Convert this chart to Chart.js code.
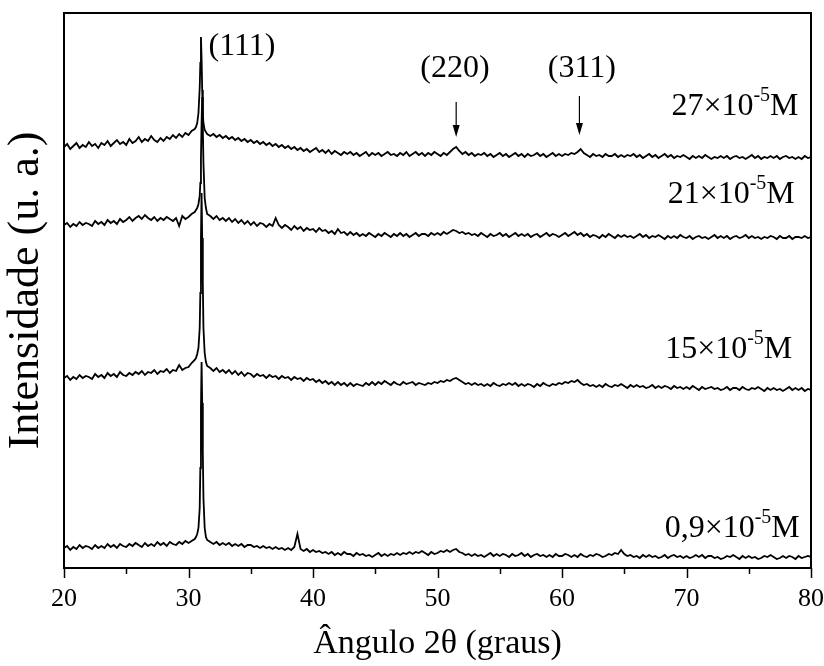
<!DOCTYPE html>
<html>
<head>
<meta charset="utf-8">
<script src="https://cdn.jsdelivr.net/npm/chart.js@4.4.1/dist/chart.umd.min.js"></script>
<style>
  html, body { margin: 0; padding: 0; background: #fff; }
  canvas { display: block; }
</style>
</head>
<body>
<canvas id="xrdChart" width="824" height="666"></canvas>
<script>
// 2θ sampling (degrees), denser around the (111) reflection
const angles = [
  20,20.25,20.5,20.75,21,21.25,21.5,21.75,22,22.25,22.5,22.75,23,23.25,23.5,23.75,24,24.25,24.5,24.75,
  25,25.25,25.5,25.75,26,26.25,26.5,26.75,27,27.25,27.5,27.75,28,28.25,28.5,28.75,29,29.25,29.5,29.75,
  30,30.25,30.5,
  30.6,30.7,30.8,30.9,30.95,31,31.05,31.1,31.15,31.2,31.3,31.4,31.5,
  31.75,
  32,32.25,32.5,32.75,33,33.25,33.5,33.75,34,34.25,34.5,34.75,35,35.25,35.5,35.75,
  36,36.25,36.5,36.75,37,37.25,37.5,37.75,38,38.25,38.5,38.75,39,39.25,39.5,39.75,
  40,40.25,40.5,40.75,41,41.25,41.5,41.75,42,42.25,42.5,42.75,43,43.25,43.5,43.75,
  44,44.25,44.5,44.75,45,45.25,45.5,45.75,46,46.25,46.5,46.75,47,47.25,47.5,47.75,
  48,48.25,48.5,48.75,49,49.25,49.5,49.75,50,50.25,50.5,50.75,51,51.25,51.5,51.75,
  52,52.25,52.5,52.75,53,53.25,53.5,53.75,54,54.25,54.5,54.75,55,55.25,55.5,55.75,
  56,56.25,56.5,56.75,57,57.25,57.5,57.75,58,58.25,58.5,58.75,59,59.25,59.5,59.75,
  60,60.25,60.5,60.75,61,61.25,61.5,61.75,62,62.25,62.5,62.75,63,63.25,63.5,63.75,
  64,64.25,64.5,64.75,65,65.25,65.5,65.75,66,66.25,66.5,66.75,67,67.25,67.5,67.75,
  68,68.25,68.5,68.75,69,69.25,69.5,69.75,70,70.25,70.5,70.75,71,71.25,71.5,71.75,
  72,72.25,72.5,72.75,73,73.25,73.5,73.75,74,74.25,74.5,74.75,75,75.25,75.5,75.75,
  76,76.25,76.5,76.75,77,77.25,77.5,77.75,78,78.25,78.5,78.75,79,79.25,79.5,79.75,
  80
];

// intensities (u. a., stacked with offsets)
const int27 = [
  421,424,419,422,425,420,423,421,426,422,424,420,425,423,427,422,425,428,424,426,
  423,429,425,427,431,426,429,427,432,428,426,430,427,431,429,433,430,434,431,435,
  433,437,439,
  441,445,455,480,505,531,510,478,455,445,438,436,434,
  432,
  434,431,433,430,432,429,431,428,430,427,429,426,428,425,427,424,
  426,423,425,422,424,421,423,420,422,419,421,418,420,417,419,416,
  418,420,416,418,415,418,414,417,415,413,416,414,416,413,415,412,
  414,416,412,415,413,415,412,414,416,413,414,412,415,413,416,412,
  414,416,413,415,412,415,413,416,414,412,415,413,416,419,421,417,
  414,416,413,415,412,414,413,415,412,414,411,413,415,412,414,411,
  413,415,412,414,411,414,412,413,415,412,414,411,413,415,412,414,
  412,414,413,415,414,416,419,415,413,411,414,412,413,411,414,412,
  412,414,411,413,411,413,412,414,411,413,410,412,414,411,413,410,
  412,414,411,413,410,412,411,413,411,409,412,410,412,410,413,411,
  409,411,410,412,410,412,409,411,412,410,411,409,411,413,410,412,
  409,411,410,412,410,412,409,411,412,410,411,409,411,409,412,410,
  411
];

const int21 = [
  343,345,341,344,342,346,343,345,344,342,347,344,346,343,348,345,347,344,349,346,
  348,351,347,350,352,349,353,350,348,351,347,350,348,351,349,347,350,342,352,349,
  351,354,356,
  358,360,364,372,385,410,445,471,440,405,370,360,354,
  352,
  349,352,348,350,347,350,346,349,345,348,344,347,343,346,342,345,
  344,341,344,342,350,343,340,343,341,338,342,339,341,337,340,338,
  339,336,340,337,338,335,337,334,339,335,336,333,336,333,335,332,
  334,332,335,333,331,334,332,335,333,331,334,332,335,332,334,331,
  333,335,332,334,334,332,335,333,335,333,336,334,336,338,337,335,
  336,334,335,333,334,332,335,333,331,334,332,333,335,332,334,331,
  333,335,332,334,332,334,331,333,334,331,333,335,332,334,333,331,
  333,335,332,334,336,333,335,332,334,331,333,332,330,333,331,334,
  332,330,333,331,333,331,332,330,332,334,331,333,330,332,331,333,
  331,329,332,330,332,330,333,331,330,332,329,331,332,330,331,329,
  331,333,330,332,330,332,329,331,332,330,331,333,330,332,330,331,
  329,331,330,332,331,329,332,330,330,332,329,331,331,330,332,330,
  331
];

const int15 = [
  190,192,188,191,189,193,190,192,191,189,194,191,193,190,195,192,194,191,196,193,
  192,195,193,196,194,197,193,196,195,198,194,197,196,199,195,198,197,203,198,200,
  201,205,208,
  210,214,220,240,275,330,375,330,285,240,215,206,202,
  200,
  197,200,196,198,195,198,194,197,193,196,192,195,194,191,194,192,
  193,190,193,191,192,189,192,190,191,188,191,189,190,187,190,188,
  189,186,188,185,187,184,186,183,186,183,185,182,185,182,184,183,
  182,185,183,186,183,186,184,187,185,183,186,184,183,186,184,185,
  186,183,185,184,183,185,184,186,185,187,186,188,187,189,190,188,
  186,184,185,183,185,183,184,182,184,182,185,183,182,184,183,185,
  183,185,182,184,182,184,183,181,184,182,185,183,182,184,183,185,
  184,186,185,187,186,188,185,183,184,182,183,181,183,181,184,182,
  181,183,182,184,182,180,183,181,183,181,182,180,181,183,180,182,
  180,182,181,179,182,180,181,179,181,179,182,180,178,181,179,180,
  181,179,180,178,179,181,178,180,180,178,181,179,178,180,179,181,
  179,177,180,178,180,178,179,177,179,181,178,180,178,180,177,179,
  178
];

const int09 = [
  20,22,18,21,19,23,20,22,21,19,23,20,22,20,24,21,23,20,24,22,
  21,24,22,25,23,21,25,22,24,22,26,23,25,22,26,24,23,26,24,27,
  25,27,29,
  31,34,40,60,100,160,206,165,115,70,40,31,28,
  26,
  24,26,23,25,23,25,22,24,22,24,21,23,23,21,22,20,
  22,20,21,19,21,19,20,18,20,18,21,34,19,17,19,16,
  18,16,17,15,16,14,16,13,15,13,16,14,14,12,15,13,
  14,12,13,11,13,15,12,14,12,14,13,15,13,15,14,16,
  14,16,15,17,15,13,16,14,15,17,16,18,16,18,19,16,
  15,13,14,12,14,12,13,11,13,15,12,14,12,14,13,11,
  14,12,13,15,12,14,11,13,14,12,13,11,13,11,14,12,
  12,14,13,11,13,11,14,12,11,13,12,14,13,11,12,14,
  13,15,14,18,14,12,13,11,12,10,13,11,13,11,12,10,
  11,13,10,12,13,11,12,10,12,10,11,13,11,13,10,12,
  12,10,11,9,10,12,11,13,11,9,12,10,12,10,11,9,
  10,12,11,13,11,9,10,12,10,12,11,9,12,10,11,12,
  11
];

const seriesNames = ['27×10-5M', '21×10-5M', '15×10-5M', '0,9×10-5M'];
const seriesValues = [int27, int21, int15, int09];

// curve labels: mantissa, exponent, unit, right edge (2θ), baseline (u. a.)
const labelMain = ['27×10', '21×10', '15×10', '0,9×10'];
const labelExp = ['-5', '-5', '-5', '-5'];
const labelUnit = ['M', 'M', 'M', 'M'];
const labelRight = [79.0, 78.7, 78.5, 79.1];
const labelBase = [453, 365, 210, 31];

// reflections
const hklText = ['(111)', '(220)', '(311)'];
const hklX = [34.3, 51.4, 61.6];
const hklY = [513, 491, 491];
const arrowX = [51.5, 61.4];
const arrowFrom = [466, 472];
const arrowTo = [431, 433];

const xTicks = [20, 30, 40, 50, 60, 70, 80];

const SERIF = "'Liberation Serif', 'Times New Roman', serif";
Chart.defaults.font.family = SERIF;
Chart.defaults.color = '#000';

const overlay = {
  id: 'overlay',
  afterDraw(chart) {
    const { ctx, chartArea: a, scales: { x, y } } = chart;
    ctx.save();
    ctx.strokeStyle = '#000';
    ctx.fillStyle = '#000';

    // frame
    ctx.lineWidth = 2;
    ctx.strokeRect(a.left, a.top, a.right - a.left, a.bottom - a.top);

    // bottom tick marks (major every 10, minor every 5)
    ctx.lineWidth = 1.5;
    for (let v = 20; v <= 80; v += 5) {
      const px = Math.round(x.getPixelForValue(v)) + 0.5;
      const len = v % 10 === 0 ? 10 : 6;
      ctx.beginPath();
      ctx.moveTo(px, a.bottom);
      ctx.lineTo(px, a.bottom + len);
      ctx.stroke();
    }

    // reflection labels
    ctx.font = '32px ' + SERIF;
    ctx.textAlign = 'center';
    ctx.textBaseline = 'alphabetic';
    hklText.forEach((t, i) => {
      ctx.fillText(t, x.getPixelForValue(hklX[i]), y.getPixelForValue(hklY[i]));
    });

    // arrows
    ctx.lineWidth = 1.2;
    arrowX.forEach((v, i) => {
      const px = x.getPixelForValue(v);
      const y0 = y.getPixelForValue(arrowFrom[i]);
      const y1 = y.getPixelForValue(arrowTo[i]);
      ctx.beginPath();
      ctx.moveTo(px, y0);
      ctx.lineTo(px, y1 - 10);
      ctx.stroke();
      ctx.beginPath();
      ctx.moveTo(px, y1);
      ctx.lineTo(px - 3.5, y1 - 12);
      ctx.lineTo(px + 3.5, y1 - 12);
      ctx.closePath();
      ctx.fill();
    });

    // concentration labels with superscript
    ctx.textAlign = 'left';
    labelMain.forEach((m, i) => {
      const mainFont = '32px ' + SERIF;
      const supFont = '20px ' + SERIF;
      ctx.font = mainFont;
      const wm = ctx.measureText(m).width;
      const wu = ctx.measureText(labelUnit[i]).width;
      ctx.font = supFont;
      const ws = ctx.measureText(labelExp[i]).width;
      const right = x.getPixelForValue(labelRight[i]);
      const base = y.getPixelForValue(labelBase[i]);
      let px = right - (wm + ws + wu);
      ctx.font = mainFont;
      ctx.fillText(m, px, base);
      px += wm;
      ctx.font = supFont;
      ctx.fillText(labelExp[i], px, base - 14);
      px += ws;
      ctx.font = mainFont;
      ctx.fillText(labelUnit[i], px, base);
    });

    ctx.restore();
  }
};

const ctx = document.getElementById('xrdChart').getContext('2d');
new Chart(ctx, {
  type: 'line',
  data: {
    datasets: seriesValues.map((vals, i) => ({
      label: seriesNames[i],
      data: angles.map((a, j) => ({ x: a, y: vals[j] })),
      borderColor: '#000',
      borderWidth: 1.8,
      pointRadius: 0,
      tension: 0,
      fill: false
    }))
  },
  options: {
    responsive: false,
    animation: false,
    layout: { padding: { top: 13, right: 13, left: 0, bottom: 0 } },
    plugins: {
      legend: { display: false },
      tooltip: { enabled: false }
    },
    scales: {
      x: {
        type: 'linear',
        min: 20,
        max: 80,
        afterBuildTicks: (scale) => { scale.ticks = xTicks.map(v => ({ value: v })); },
        afterFit: (scale) => {
          scale.height = 98;
          scale.paddingLeft = 0;
          scale.paddingRight = 0;
        },
        ticks: { font: { size: 26 }, color: '#000', padding: 16, maxRotation: 0 },
        grid: { display: false, drawTicks: false },
        border: { display: false },
        title: {
          display: true,
          text: 'Ângulo 2θ (graus)',
          font: { size: 34 },
          color: '#000',
          padding: { top: 0, bottom: 2 }
        }
      },
      y: {
        min: 0,
        max: 555,
        afterFit: (scale) => {
          scale.width = 64;
          scale.paddingTop = 0;
          scale.paddingBottom = 0;
        },
        ticks: { display: false },
        grid: { display: false, drawTicks: false },
        border: { display: false },
        title: {
          display: true,
          text: 'Intensidade (u. a.)',
          font: { size: 44 },
          color: '#000',
          padding: { top: 0, bottom: 0 }
        }
      }
    }
  },
  plugins: [overlay]
});
</script>
</body>
</html>
